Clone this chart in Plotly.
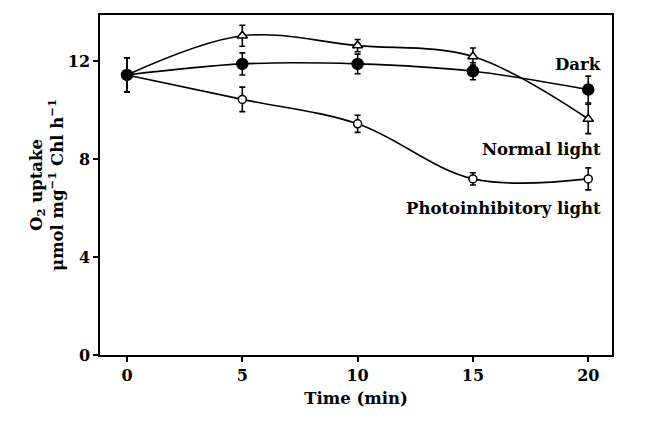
import plotly.graph_objects as go

time_min = [0, 5, 10, 15, 20]
dark = [11.45, 11.9, 11.9, 11.6, 10.85]
dark_err = [0.7, 0.45, 0.4, 0.35, 0.55]
normal = [11.45, 13.05, 12.65, 12.2, 9.65]
normal_err = [0.7, 0.43, 0.25, 0.35, 0.6]
photo = [11.45, 10.45, 9.45, 7.2, 7.2]
photo_err = [0.7, 0.5, 0.35, 0.25, 0.45]

x_ticks = [0, 5, 10, 15, 20]
y_ticks = [0, 4, 8, 12]

FONT = "DejaVu Serif"

fig = go.Figure()

def add(y, err, symbol, size, fill):
    fig.add_trace(go.Scatter(
        x=time_min, y=y, mode="lines+markers",
        line=dict(color="black", width=1.6, shape="spline", smoothing=1.0),
        marker=dict(symbol=symbol, size=size, color=fill,
                    line=dict(color="black", width=1.5)),
        error_y=dict(type="data", array=err, visible=True, color="black",
                     thickness=1.6, width=3),
        showlegend=False,
    ))

add(photo, photo_err, "circle", 8, "white")
add(normal, normal_err, "triangle-up", 9, "white")
add(dark, dark_err, "circle", 11, "black")

ann_font = dict(family=FONT, size=16.5, color="black", weight="bold")
for text, yv in [("Dark", 11.88), ("Normal light", 8.42), ("Photoinhibitory light", 5.97)]:
    fig.add_annotation(x=20.62, y=yv, text=text, showarrow=False,
                       xanchor="right", yanchor="middle", font=ann_font)

fig.update_layout(
    width=641, height=415,
    margin=dict(l=92, r=37, t=5, b=68),
    paper_bgcolor="white", plot_bgcolor="white",
    font=dict(family=FONT, size=16, color="black", weight="bold"),
    xaxis=dict(range=[-1.17, 21.03], tickvals=x_ticks, ticks="outside",
               ticklen=5, tickwidth=1.5, tickcolor="black",
               showline=True, linecolor="black", linewidth=1.5, mirror=True,
               showgrid=False, zeroline=False,
               tickfont=dict(family=FONT, size=16, weight="bold"),
               title=dict(text="Time (min)", standoff=8,
                          font=dict(family=FONT, size=16.5, weight="bold"))),
    yaxis=dict(range=[0, 13.9], tickvals=y_ticks, ticks="outside",
               ticklen=5, tickwidth=1.5, tickcolor="black",
               showline=True, linecolor="black", linewidth=1.5, mirror=True,
               showgrid=False, zeroline=False,
               tickfont=dict(family=FONT, size=16, weight="bold"),
               title=dict(text="O<sub>2</sub> uptake<br>μmol mg<sup>−1</sup> Chl h<sup>−1</sup>",
                          standoff=0,
                          font=dict(family=FONT, size=16.5, weight="bold"))),
)

fig.write_html("out.html")
